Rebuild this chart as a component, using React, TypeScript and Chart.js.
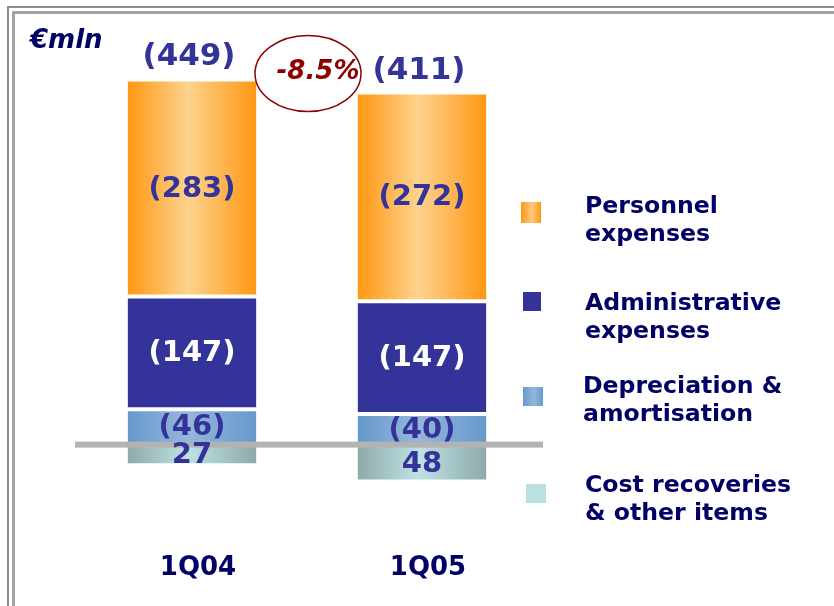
import React, { useEffect, useRef } from "react";
import { Chart, registerables } from "chart.js";

Chart.register(...registerables);

// ---- data (figures in € million; costs negative, recoveries positive) ----
const quarters = ["1Q04", "1Q05"];
const personnelExpenses = [-283, -272];
const administrativeExpenses = [-147, -147];
const depreciationAmortisation = [-46, -40];
const costRecoveries = [27, 48];
const seriesNames = [
  ["Personnel", "expenses"],
  ["Administrative", "expenses"],
  ["Depreciation &", "amortisation"],
  ["Cost recoveries", "& other items"],
];
const unitLabel = "€mln";

const NAVY = "#000066";
const LABEL_BLUE = "#333399";
const FAMILY = 'Verdana, "DejaVu Sans", sans-serif';
const BAR_PCT = 0.56;

const fmt = (v: number) => (v < 0 ? `(${Math.abs(v)})` : `${v}`);

function barGradient(edge: string, center: string) {
  return (c: any) => {
    const chart = c.chart;
    const ca = chart.chartArea;
    const xs = chart.scales && chart.scales.x;
    if (!ca || !xs || c.dataIndex == null) return edge;
    const cx = xs.getPixelForValue(c.dataIndex);
    const w = ((ca.right - ca.left) / quarters.length) * BAR_PCT;
    const g = chart.ctx.createLinearGradient(cx - w / 2, 0, cx + w / 2, 0);
    g.addColorStop(0, edge);
    g.addColorStop(0.47, center);
    g.addColorStop(1, edge);
    return g;
  };
}

const annotatePlugin = {
  id: "annotate",
  afterDatasetsDraw(chart: any) {
    const ctx = chart.ctx;
    const ys = chart.scales.y;
    const xs = chart.scales.x;
    const ca = chart.chartArea;
    ctx.save();
    // zero line
    const y0 = ys.getPixelForValue(0);
    ctx.fillStyle = "#b3b3b3";
    ctx.fillRect(ca.left - 2, y0 - 3, ca.right - ca.left + 8, 6);

    // segment labels
    ctx.font = `bold 29px ${FAMILY}`;
    ctx.textAlign = "center";
    ctx.textBaseline = "middle";
    chart.data.datasets.forEach((ds: any, i: number) => {
      const meta = chart.getDatasetMeta(i);
      meta.data.forEach((el: any, j: number) => {
        const v = ds.data[j] as number;
        const p = el.getProps(["x", "y", "base"], true);
        ctx.fillStyle = ds.labelColor;
        ctx.fillText(fmt(v), p.x, (p.y + p.base) / 2 + 1);
      });
    });

    // totals
    const totals = quarters.map(
      (_, j) =>
        personnelExpenses[j] + administrativeExpenses[j] + depreciationAmortisation[j] + costRecoveries[j]
    );
    const tops = quarters.map(
      (_, j) => personnelExpenses[j] + administrativeExpenses[j] + depreciationAmortisation[j]
    );
    ctx.fillStyle = LABEL_BLUE;
    ctx.font = `bold 31px ${FAMILY}`;
    quarters.forEach((_, j) => {
      const x = xs.getPixelForValue(j);
      ctx.fillText(fmt(totals[j]), x - 3, ys.getPixelForValue(tops[j]) - 22);
    });

    // change ellipse
    const c0 = -totals[0];
    const c1 = -totals[1];
    const pct = ((c1 - c0) / c0) * 100;
    const ex = (xs.getPixelForValue(0) + xs.getPixelForValue(1)) / 2 + 1;
    const ey = ys.getPixelForValue(tops[0]) - 6;
    ctx.beginPath();
    ctx.ellipse(ex, ey, 53, 38, 0, 0, Math.PI * 2);
    ctx.strokeStyle = "#8b0000";
    ctx.lineWidth = 1.5;
    ctx.stroke();
    ctx.fillStyle = "#8b0000";
    ctx.font = `italic bold 26px ${FAMILY}`;
    ctx.fillText(`${pct.toFixed(1)}%`, ex + 10, ey - 1);
    ctx.restore();
  },
};

function ChartCanvas() {
  const ref = useRef<HTMLCanvasElement | null>(null);
  useEffect(() => {
    if (!ref.current) return;
    const common = {
      borderColor: "#ffffff",
      borderWidth: { top: 2, bottom: 2, left: 0, right: 0 },
      borderSkipped: false,
      barPercentage: BAR_PCT,
      categoryPercentage: 1,
      stack: "s",
    };
    const chart = new Chart(ref.current, {
      type: "bar",
      data: {
        labels: quarters,
        datasets: [
          {
            ...common,
            label: seriesNames[2].join(" "),
            data: depreciationAmortisation,
            backgroundColor: barGradient("#6699cc", "#95b6dc"),
            labelColor: LABEL_BLUE,
          } as any,
          {
            ...common,
            label: seriesNames[1].join(" "),
            data: administrativeExpenses,
            backgroundColor: "#333399",
            labelColor: "#ffffff",
          } as any,
          {
            ...common,
            label: seriesNames[0].join(" "),
            data: personnelExpenses,
            backgroundColor: barGradient("#ff9712", "#fdd38e"),
            labelColor: LABEL_BLUE,
          } as any,
          {
            ...common,
            label: seriesNames[3].join(" "),
            data: costRecoveries,
            backgroundColor: barGradient("#8fa9a9", "#bde3e5"),
            labelColor: LABEL_BLUE,
          } as any,
        ],
      },
      options: {
        animation: false,
        responsive: false,
        events: [],
        layout: { padding: { left: 77, right: 297, top: 38, bottom: 12 } },
        plugins: { legend: { display: false }, tooltip: { enabled: false } },
        scales: {
          x: {
            stacked: true,
            grid: { display: false, drawTicks: false },
            border: { display: false },
            ticks: {
              color: NAVY,
              padding: 10,
              labelOffset: 6,
              font: { family: FAMILY, weight: "bold", size: 26 },
            },
          },
          y: {
            stacked: true,
            reverse: true,
            display: false,
            min: -530,
            max: 128,
          },
        },
      },
      plugins: [annotatePlugin],
    } as any);
    return () => chart.destroy();
  }, []);
  return (
    <canvas
      ref={ref}
      width={834}
      height={606}
      style={{ position: "absolute", left: 0, top: 0, width: 834, height: 606 }}
    />
  );
}

const legendMarkers = [
  { left: 521, top: 202, w: 20, h: 21, bg: "linear-gradient(90deg,#ff9712,#fdc880 55%,#ff9712)" },
  { left: 523, top: 292, w: 18, h: 19, bg: "#333399" },
  { left: 523, top: 387, w: 20, h: 19, bg: "linear-gradient(90deg,#6699cc,#95b6dc 55%,#6699cc)" },
  { left: 526, top: 484, w: 20, h: 19, bg: "#bae1e2" },
];
const legendTextPos = [
  { left: 585, top: 191 },
  { left: 585, top: 288 },
  { left: 583, top: 371 },
  { left: 585, top: 470 },
];

export default function App() {
  return (
    <div
      style={{
        position: "absolute",
        left: 0,
        top: 0,
        width: 834,
        height: 606,
        overflow: "hidden",
        background: "#ffffff",
        fontFamily: FAMILY,
      }}
    >
      <div
        style={{
          position: "absolute",
          left: 7,
          top: 6,
          width: 1000,
          height: 1000,
          border: "2px solid #8c8c8c",
        }}
      />
      <div
        style={{
          position: "absolute",
          left: 12,
          top: 11,
          width: 1000,
          height: 1000,
          border: "3px solid #a3a3a3",
        }}
      />
      <ChartCanvas />
      <div
        style={{
          position: "absolute",
          left: 30,
          top: 26,
          fontSize: 26,
          lineHeight: "26px",
          fontWeight: "bold",
          fontStyle: "italic",
          color: NAVY,
          whiteSpace: "nowrap",
        }}
      >
        {unitLabel}
      </div>
      {legendMarkers.map((m, i) => (
        <div
          key={"m" + i}
          style={{
            position: "absolute",
            left: m.left,
            top: m.top,
            width: m.w,
            height: m.h,
            background: m.bg,
          }}
        />
      ))}
      {seriesNames.map((lines, i) => (
        <div
          key={"t" + i}
          style={{
            position: "absolute",
            left: legendTextPos[i].left,
            top: legendTextPos[i].top,
            fontSize: 23.6,
            lineHeight: "28px",
            fontWeight: "bold",
            color: NAVY,
            whiteSpace: "nowrap",
          }}
        >
          {lines[0]}
          <br />
          {lines[1]}
        </div>
      ))}
    </div>
  );
}
